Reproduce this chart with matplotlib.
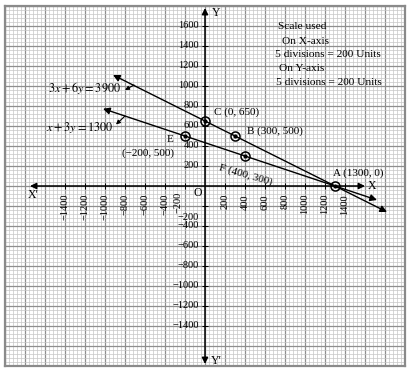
import matplotlib
matplotlib.use("Agg")
import matplotlib.pyplot as plt
import numpy as np

plt.rcParams["font.family"] = ["Liberation Serif", "DejaVu Serif"]
plt.rcParams["mathtext.fontset"] = "stix"

# line 3x + 6y = 3900, end points
line1_x = [-920, 1820]
line1_y = [1110, -260]
# line x + 3y = 1300
line2_x = [-1020, 1720]
line2_y = [773, -140]

# marked points
pt_names = ["C", "B", "F", "A", "E"]
pt_x = [0, 300, 400, 1300, -200]
pt_y = [650, 500, 300, 0, 500]

x_tick_vals = [-1400, -1200, -1000, -800, -600, -400, -200,
               200, 400, 600, 800, 1000, 1200, 1400]
y_tick_vals = [1600, 1400, 1200, 1000, 800, 600, 400, 200,
               -200, -400, -600, -800, -1000, -1200, -1400]

scale_lines = ["Scale used", "On X-axis", "5 divisions = 200 Units",
               "On Y-axis", "5 divisions = 200 Units"]


def fmt(v):
    return f"\u2212{abs(v)}" if v < 0 else f"{v}"


fig = plt.figure(figsize=(4.11, 3.75), dpi=100)
ax = fig.add_axes([5 / 411, 9 / 375, 400 / 411, 360 / 375])
ax.set_xlim(-2000, 2000)
ax.set_ylim(-1800, 1800)

# graph paper
ax.set_xticks(np.arange(-2000, 2001, 200))
ax.set_yticks(np.arange(-1800, 1801, 200))
ax.set_xticks(np.arange(-2000, 2001, 40), minor=True)
ax.set_yticks(np.arange(-1800, 1801, 40), minor=True)
ax.grid(which="minor", color="#c6c6c6", lw=0.5)
ax.grid(which="major", color="#8e8e8e", lw=0.9)
ax.tick_params(which="both", length=0, labelbottom=False, labelleft=False)
ax.set_axisbelow(True)
for sp in ax.spines.values():
    sp.set_color("#8a8a8a")
    sp.set_linewidth(1.6)

axis_arrow = dict(arrowstyle="<|-|>", color="black", lw=1.1,
                  mutation_scale=9, shrinkA=0, shrinkB=0)
ax.annotate("", xy=(1600, 0), xytext=(-1750, 0), arrowprops=axis_arrow)
ax.annotate("", xy=(0, 1780), xytext=(0, -1780), arrowprops=axis_arrow)

# ticks and tick labels
ax.vlines(x_tick_vals, -30, 30, color="black", lw=0.7)
ax.hlines(y_tick_vals, -30, 30, color="black", lw=0.7)
for v in x_tick_vals:
    xpos = v - 70 if v == -200 else v
    ytop = -55 if v == -200 else -80
    ax.text(xpos, ytop, fmt(v), rotation=90, ha="center", va="top", fontsize=7.5)
for v in y_tick_vals:
    ypos = v - 110 if v == -200 else v
    ax.text(-60, ypos, fmt(v), ha="right", va="center", fontsize=7.5)

ax.text(1670, 0, "X", ha="center", va="center", fontsize=8.5)
ax.text(-1720, -95, "X\u2032", ha="center", va="center", fontsize=8.5)
ax.text(110, 1730, "Y", ha="center", va="center", fontsize=8.5)
ax.text(110, -1745, "Y\u2032", ha="center", va="center", fontsize=8.5)
ax.text(-70, -65, "O", ha="center", va="center", fontsize=8.5)

# the two lines
line_arrow = dict(arrowstyle="<|-|>", color="black", lw=1.0,
                  mutation_scale=10, shrinkA=0, shrinkB=0)
ax.annotate("", xy=(line1_x[1], line1_y[1]), xytext=(line1_x[0], line1_y[0]),
            arrowprops=line_arrow)
ax.annotate("", xy=(line2_x[1], line2_y[1]), xytext=(line2_x[0], line2_y[0]),
            arrowprops=line_arrow)

ax.plot(pt_x, pt_y, "o", ms=6.5, mfc="none", mec="black", mew=1.1)
ax.plot(pt_x, pt_y, "o", ms=2, color="black")

# point labels
ax.text(90, 735, "C (0, 650)", ha="left", va="center", fontsize=8)
ax.text(420, 545, "B (300, 500)", ha="left", va="center", fontsize=8)
ax.text(410, 115, "F (400, 300)", ha="center", va="center", fontsize=8,
        rotation=-16)
ax.text(1280, 125, "A (1300, 0)", ha="left", va="center", fontsize=8)
ax.text(-350, 465, "E", ha="center", va="center", fontsize=8)
ax.text(-575, 325, "(\u2212200, 500)", ha="center", va="center", fontsize=8)

# equation labels with small pointers
ax.text(-1200, 985, "$3x + 6y = 3900$", ha="center", va="center", fontsize=8.8)
ax.text(-1250, 585, "$x + 3y = 1300$", ha="center", va="center", fontsize=8.8)
small = dict(arrowstyle="-|>", color="black", lw=0.8, mutation_scale=6,
             shrinkA=0, shrinkB=0)
ax.annotate("", xy=(-800, 960), xytext=(-710, 1010), arrowprops=small)
ax.annotate("", xy=(-890, 615), xytext=(-800, 700), arrowprops=small)

# scale note
scale_pos = [(970, 1595), (1000, 1445), (1230, 1315), (970, 1175), (1240, 1035)]
for txt, (sx, sy) in zip(scale_lines, scale_pos):
    ax.text(sx, sy, txt, ha="center", va="center", fontsize=8.2)

fig.savefig("out.png", dpi=100)
